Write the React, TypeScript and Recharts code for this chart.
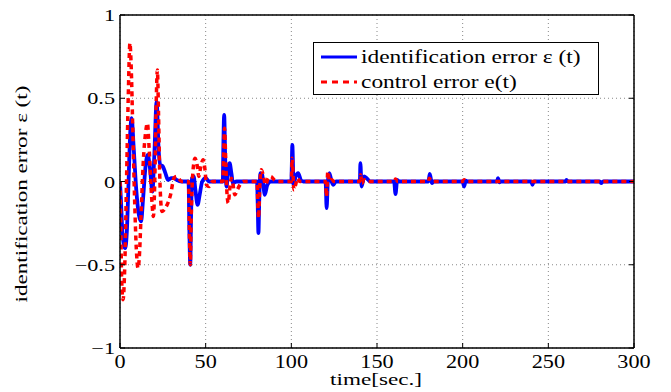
import React from 'react';
import { LineChart, Line, XAxis, YAxis, CartesianGrid, Legend } from 'recharts';

// identification error ε(t) (blue, solid)
const blueT = [0, 0.5, 1.5, 3, 4, 5, 6, 6.8, 8, 9.5, 11, 12.3, 13.5, 15, 16.2, 17.5, 18.9, 20, 21.4, 22.5, 23.5, 25, 26.5, 28, 30, 31.5, 33, 36,
  40, 40.5, 41, 41.5, 42, 43, 44, 45.3, 46.5, 48, 50, 52,
  60, 60.3, 60.8, 61.5, 62.2, 63, 64, 65, 66, 68,
  80, 80.4, 80.8, 81.3, 82, 83, 84.5, 86, 88,
  100, 100.6, 101.3, 102.5, 104, 105.5, 107,
  120, 120.6, 121.3, 122.2, 123.5, 124.5, 126,
  140, 140.3, 141, 142.5, 144, 146,
  160, 160.8, 161.8, 163,
  180, 180.8, 182, 183,
  200, 200.8, 201.8, 203,
  220, 220.6, 221.5, 222,
  240, 240.7, 241.5,
  260, 260.6, 261.5,
  280, 280.8, 282, 300];
const blueV = [0, -0.1, -0.32, -0.4, -0.3, 0.0, 0.3, 0.38, 0.2, -0.05, -0.2, -0.24, -0.1, 0.1, 0.16, 0.08, -0.06, 0.15, 0.48, 0.2, 0.1, 0.09, 0.05, 0.01, 0.02, 0.02, 0.01, 0.0,
  0.0, -0.3, -0.5, -0.2, 0.02, 0.03, -0.05, -0.14, -0.08, 0.0, 0.02, 0.0,
  0.0, 0.2, 0.4, 0.1, -0.03, 0.05, 0.11, 0.05, -0.01, 0.0,
  0, -0.15, -0.31, -0.1, 0.05, 0.04, -0.08, -0.02, 0,
  0, 0.22, -0.02, 0.03, 0.05, 0.01, 0,
  0, -0.16, 0.0, 0.05, 0.0, -0.02, 0,
  0, 0.11, -0.03, 0.03, 0.02, 0,
  0, -0.075, 0.01, 0,
  0, 0.045, -0.01, 0,
  0, -0.03, 0.005, 0,
  0, 0.02, -0.005, 0,
  0, -0.02, 0,
  0, 0.01, 0,
  0, -0.01, 0, 0];

// control error e(t) (red, dashed)
const redT = [0, 0.5, 1, 1.8, 2.8, 3.8, 4.8, 5.8, 6.5, 7.5, 8.5, 9.5, 10.5, 11.3, 12.3, 13.5, 15, 16, 17, 18.5, 19.5, 20.5, 21.2, 21.8, 22.5, 23.3, 24.5, 27, 29.5, 31.5, 33, 36,
  40, 40.5, 41, 41.5, 42.5, 43.8, 45, 46, 47, 48.5, 49.5, 50.5, 52, 54,
  60, 60.5, 61, 61.8, 62.5, 63.2, 64, 65, 66, 67, 68.5, 70, 72,
  80, 80.5, 80.9, 81.5, 82.5, 83.5, 85, 86.5, 88, 90, 92,
  100, 100.5, 101.5, 102.5, 103.5, 105,
  120, 120.5, 121.3, 122.3, 123.5, 125,
  140, 140.4, 141.3, 142.5, 144,
  160, 160.8, 162,
  180, 180.5, 182,
  200, 200.8, 202, 300];
const redV = [0, -0.3, -0.6, -0.71, -0.5, 0.0, 0.5, 0.83, 0.7, 0.3, -0.1, -0.4, -0.52, -0.45, -0.2, 0.1, 0.3, 0.35, 0.2, -0.1, -0.21, 0.1, 0.5, 0.67, 0.4, 0.0, -0.18, -0.15, -0.08, 0.02, 0.03, 0.0,
  0.0, -0.3, -0.5, -0.25, 0.05, 0.14, 0.1, 0.03, 0.08, 0.13, 0.08, -0.02, -0.03, 0.0,
  0, 0.15, 0.32, 0.1, -0.08, -0.13, -0.05, 0.02, -0.02, -0.08, -0.05, -0.02, 0.0,
  0, -0.15, -0.22, -0.05, 0.07, 0.04, -0.02, 0.02, 0.03, 0.01, 0,
  0, 0.14, -0.05, -0.02, 0.02, 0.0,
  0, -0.09, 0.06, 0.0, 0.01, 0,
  0, 0.04, -0.01, 0.01, 0,
  0, 0.015, 0,
  0, 0.02, 0,
  0, 0.01, 0, 0];

const xTicks = [0, 50, 100, 150, 200, 250, 300];
const yTicks = [-1, -0.5, 0, 0.5, 1];
const seriesNames = ['identification error \u03b5 (t)', 'control error e(t)'];
const xLabel = 'time[sec.]';
const yLabel = 'identification error \u03b5 (t)';

const blueData = blueT.map((t, i) => ({ t, v: blueV[i] }));
const redData = redT.map((t, i) => ({ t, v: redV[i] }));

const TXT: React.CSSProperties = { fontFamily: "'Liberation Serif', 'Times New Roman', 'DejaVu Serif', serif" };
const fmt = (v: number) => (v < 0 ? '\u2212' + Math.abs(v) : String(v));

const BottomTick = (props: any) => {
  const { x, y, payload } = props;
  return (
    <g>
      <line x1={x} x2={x} y1={y} y2={y - 5} stroke="#000" strokeWidth={1} />
      <text transform={`translate(${x},${y + 20}) scale(1.2,1)`} textAnchor="middle" fontSize={18.5} style={TXT} fill="#000">
        {fmt(payload.value)}
      </text>
    </g>
  );
};
const TopTick = (props: any) => {
  const { x, y } = props;
  return <line x1={x} x2={x} y1={y} y2={y + 5} stroke="#000" strokeWidth={1} />;
};
const LeftTick = (props: any) => {
  const { x, y, payload } = props;
  return (
    <g>
      <line x1={x} x2={x + 5} y1={y} y2={y} stroke="#000" strokeWidth={1} />
      <text transform={`translate(${x - 5},${y + 6}) scale(1.27,1)`} textAnchor="end" fontSize={17.5} style={TXT} fill="#000">
        {fmt(payload.value)}
      </text>
    </g>
  );
};
const RightTick = (props: any) => {
  const { x, y } = props;
  return <line x1={x} x2={x - 5} y1={y} y2={y} stroke="#000" strokeWidth={1} />;
};

const LegendBox = () => (
  <svg width={286} height={53} style={{ display: 'block' }}>
    <rect x={0.5} y={0.5} width={285} height={52} fill="#fff" stroke="#000" strokeWidth={1} />
    <line x1={8} x2={44} y1={15} y2={15} stroke="#0000ff" strokeWidth={3} />
    <text transform="translate(48,21) scale(1.3,1)" fontSize={18} style={TXT} fill="#000">{seriesNames[0]}</text>
    <line x1={8} x2={44} y1={40} y2={40} stroke="#ff0000" strokeWidth={3} strokeDasharray="6 5" />
    <text transform="translate(48,46) scale(1.3,1)" fontSize={18} style={TXT} fill="#000">{seriesNames[1]}</text>
  </svg>
);

export default function App() {
  return (
    <div style={{ position: 'absolute', left: 0, top: 0, width: 671, height: 392, background: '#fff' }}>
      <LineChart width={671} height={392} margin={{ top: 0, right: 0, bottom: 0, left: 0 }}>
        <CartesianGrid stroke="#888" strokeDasharray="1 3" />
        <XAxis
          dataKey="t"
          type="number"
          domain={[0, 300]}
          ticks={xTicks}
          interval={0}
          height={44}
          tickSize={0}
          tickMargin={0}
          tick={<BottomTick />}
          axisLine={{ stroke: '#000', strokeWidth: 1.5 }}
          tickLine={false}
          allowDataOverflow
          label={{
            content: () => (
              <text transform="translate(376,385) scale(1.36,1)" textAnchor="middle" fontSize={17} style={TXT} fill="#000">
                {xLabel}
              </text>
            ),
          }}
        />
        <XAxis
          xAxisId="top"
          orientation="top"
          type="number"
          domain={[0, 300]}
          ticks={xTicks}
          interval={0}
          height={15}
          tickSize={0}
          tickMargin={0}
          tick={<TopTick />}
          axisLine={{ stroke: '#000', strokeWidth: 1.5 }}
          tickLine={false}
          allowDataOverflow
        />
        <YAxis
          type="number"
          domain={[-1, 1]}
          ticks={yTicks}
          interval={0}
          width={120}
          tickSize={0}
          tickMargin={0}
          tick={<LeftTick />}
          axisLine={{ stroke: '#000', strokeWidth: 1.5 }}
          tickLine={false}
          allowDataOverflow
          label={{
            content: () => (
              <text transform="translate(27,194) rotate(-90) scale(1.32,1)" textAnchor="middle" fontSize={17.5} style={TXT} fill="#000">
                {yLabel}
              </text>
            ),
          }}
        />
        <YAxis
          yAxisId="right"
          orientation="right"
          type="number"
          domain={[-1, 1]}
          ticks={yTicks}
          interval={0}
          width={37}
          tickSize={0}
          tickMargin={0}
          tick={<RightTick />}
          axisLine={{ stroke: '#000', strokeWidth: 1.5 }}
          tickLine={false}
          allowDataOverflow
        />
        <Legend
          layout="horizontal"
          verticalAlign="middle"
          align="center"
          content={() => <LegendBox />}
          wrapperStyle={{ position: 'absolute', left: 313, top: 42, width: 286, height: 53 }}
        />
        <Line data={blueData} dataKey="v" name={seriesNames[0]} type="monotone" stroke="#0000ff" strokeWidth={3.8} dot={false} isAnimationActive={false} />
        <Line data={redData} dataKey="v" name={seriesNames[1]} type="monotone" stroke="#ff0000" strokeWidth={3.5} strokeDasharray="5 4" dot={false} isAnimationActive={false} />
      </LineChart>
    </div>
  );
}
